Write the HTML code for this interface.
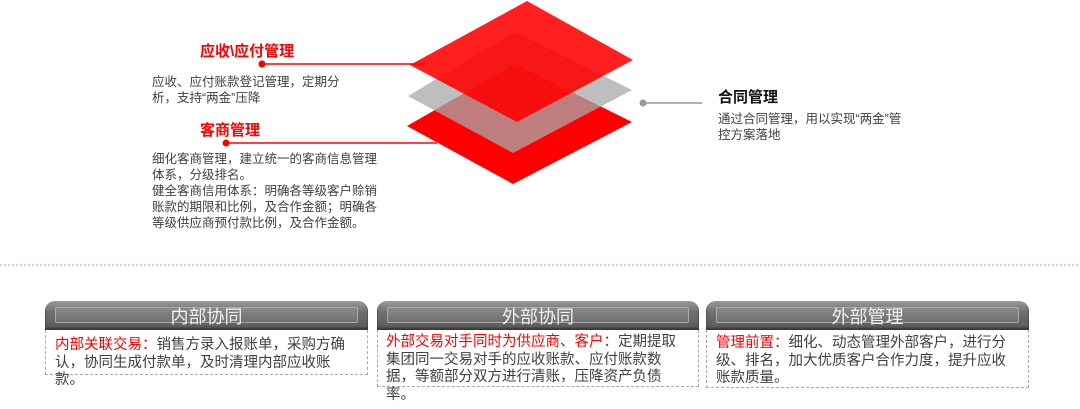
<!DOCTYPE html>
<html><head><meta charset="utf-8"><style>
body{margin:0;width:1080px;height:409px;background:#fff;position:relative;overflow:hidden;font-family:"Liberation Sans","Noto Sans CJK SC",sans-serif;}
.a{position:absolute;white-space:nowrap}
.t{font-size:12.5px;color:#404040;line-height:16px}
.h{font-size:15px;font-weight:bold}
.box{position:absolute}
.hd{position:absolute;left:0;right:0;top:0;height:29px;border-radius:10px 10px 0 0;background:linear-gradient(#9a9a9a,#6e6e6e 40%,#5a5a5a);box-shadow:inset 0 -2px 2px #333;}
.hd i{position:absolute;left:10px;right:10px;top:6px;height:14px;border:1px solid #aaa;border-radius:2px;background:linear-gradient(#8a8a8a,#6f6f6f)}
.hd span{position:absolute;left:0;right:0;top:2px;text-align:center;color:#f0f0f0;font-size:18px}
.bd{position:absolute;left:0;right:0;top:29px;border:1px dashed #aaa;border-top:none;box-sizing:border-box}
.bt{position:absolute;left:10px;top:36px;font-size:14.5px;line-height:17.5px;color:#404040;white-space:nowrap}
.r{color:#f00}
</style></head><body>
<svg width="1080" height="409" style="position:absolute;left:0;top:0">
<polygon points="515,64 632,122 513,184 407,126" fill="#ff0000"/>
<polygon points="515,32 632,90 513,153 408,96" fill="#a8a8a8" opacity="0.75"/>
<polygon points="527,1 633,60 517,122 410,65" fill="#ff0000" opacity="0.88"/>
<line x1="262" y1="64" x2="425" y2="64" stroke="#f00" stroke-width="1.5"/>
<circle cx="262" cy="64" r="3.5" fill="#f00"/>
<line x1="226" y1="143" x2="437" y2="143" stroke="#f00" stroke-width="1.5"/>
<circle cx="226" cy="143" r="3.5" fill="#f00"/>
<line x1="643" y1="103" x2="702" y2="103" stroke="#999" stroke-width="1.5"/>
<circle cx="643" cy="103" r="3.5" fill="#999"/>
<line x1="0" y1="265" x2="1080" y2="265" stroke="#f08080" stroke-width="1" stroke-dasharray="2,2"/>
</svg>
<div class="a h" style="left:200px;top:40px;color:#f00">应收\应付管理</div>
<div class="a t" style="left:152px;top:74px">应收、应付账款登记管理，定期分<br>析，支持“两金”压降</div>
<div class="a h" style="left:200px;top:119px;color:#f00">客商管理</div>
<div class="a t" style="left:152px;top:151px">细化客商管理，建立统一的客商信息管理<br>体系，分级排名。<br>健全客商信用体系：明确各等级客户赊销<br>账款的期限和比例，及合作金额；明确各<br>等级供应商预付款比例，及合作金额。</div>
<div class="a h" style="left:718px;top:86px;color:#111">合同管理</div>
<div class="a t" style="left:718px;top:111px">通过合同管理，用以实现“两金”管<br>控方案落地</div>

<div class="box" style="left:45px;top:301px;width:323px;height:74px">
<div class="hd"><i></i><span>内部协同</span></div><div class="bd" style="height:45px"></div>
<div class="bt" style="left:10px"><span class="r">内部关联交易：</span>销售方录入报账单，采购方确<br>认，协同生成付款单，及时清理内部应收账<br>款。</div></div>

<div class="box" style="left:377px;top:301px;width:322px;height:86px">
<div class="hd"><i></i><span>外部协同</span></div><div class="bd" style="height:57px"></div>
<div class="bt" style="left:9px;top:33px"><span class="r">外部交易对手同时为供应商、客户：</span>定期提取<br>集团同一交易对手的应收账款、应付账款数<br>据，等额部分双方进行清账，压降资产负债<br>率。</div></div>

<div class="box" style="left:706px;top:301px;width:323px;height:87px">
<div class="hd"><i></i><span>外部管理</span></div><div class="bd" style="height:58px"></div>
<div class="bt" style="left:10px;top:34px"><span class="r">管理前置：</span>细化、动态管理外部客户，进行分<br>级、排名，加大优质客户合作力度，提升应收<br>账款质量。</div></div>
</body></html>
